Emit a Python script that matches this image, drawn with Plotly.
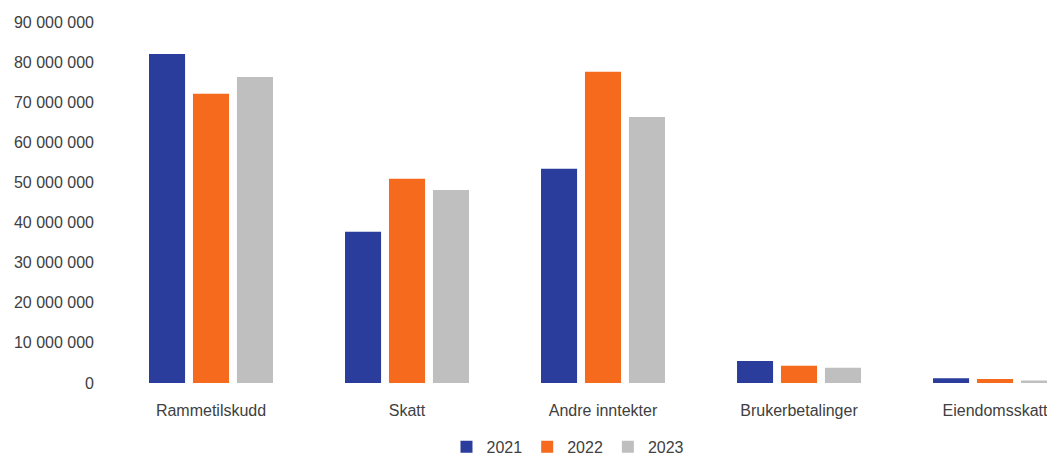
import plotly.graph_objects as go

categories = ["Rammetilskudd", "Skatt", "Andre inntekter", "Brukerbetalinger", "Eiendomsskatt"]
years = ["2021", "2022", "2023"]
v2021 = [82000000, 37700000, 53400000, 5500000, 1200000]
v2022 = [72100000, 50900000, 77600000, 4300000, 1000000]
v2023 = [76300000, 48100000, 66300000, 3800000, 600000]
y_ticks = [0, 10000000, 20000000, 30000000, 40000000, 50000000, 60000000, 70000000, 80000000, 90000000]

colors = ["#2a3d9c", "#f56a1c", "#bfbfbf"]
font_family = "Liberation Sans, Arial, sans-serif"

fig = go.Figure()
for name, vals, col in zip(years, [v2021, v2022, v2023], colors):
    fig.add_trace(go.Bar(x=categories, y=vals, name=name, marker=dict(color=col, line=dict(width=0))))

fig.update_layout(
    width=1055, height=459,
    margin=dict(l=105, r=8, t=14, b=84, autoexpand=False),
    paper_bgcolor="white", plot_bgcolor="white",
    barmode="group", bargap=0.327, bargroupgap=0.18,
    separators=", ",
    font=dict(family=font_family, size=16, color="#404040"),
    showlegend=True,
    legend=dict(orientation="h", x=0.483, xanchor="center", y=-0.177, yanchor="middle",
                font=dict(size=16, color="#404040"), itemwidth=30, tracegroupgap=0),
    xaxis=dict(type="category", range=[-0.5, 4.306], showgrid=False, showline=False, zeroline=False,
               automargin=False, ticks="", ticklabelstandoff=16, tickfont=dict(size=16, color="#404040")),
    yaxis=dict(range=[0, 90000000], tickvals=y_ticks, tickformat=",d", showgrid=False, showline=False,
               automargin=False, zeroline=False, ticks="", ticklabelstandoff=18,
               tickfont=dict(size=16, color="#404040")),
)

fig.write_html("out.html")
